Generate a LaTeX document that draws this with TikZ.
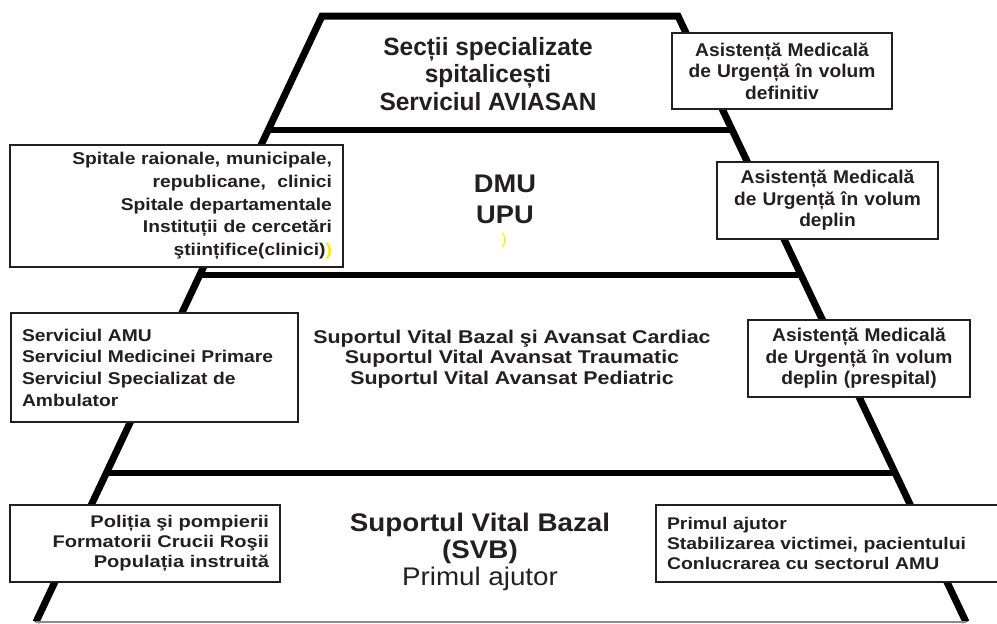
\documentclass[tikz,border=0pt]{standalone}
\usepackage{fontspec}
\setmainfont{Liberation Sans}
\usetikzlibrary{positioning}

\definecolor{ink}{HTML}{231F20}
\definecolor{hiyellow}{HTML}{FFEB00}

% size, line distance, horizontal stretch
\newcommand\wfont[3]{\fontsize{#1}{#2}\selectfont\bfseries\addfontfeature{FakeStretch=#3}}

\tikzset{
  edge/.style={line width=0.14cm, line join=miter, black},
  tier/.style={line width=0.12cm, black},
  floor/.style={line width=0.03cm, black!45},
  infobox/.style={draw=ink, line width=0.03cm, fill=white, text=ink,
    inner xsep=0.22cm, inner ysep=0pt},
  tiertext/.style={text=ink, align=center, inner sep=0pt}
}

\begin{document}
\begin{tikzpicture}[x=0.02cm, y=-0.02cm]
  \useasboundingbox (0,0) rectangle (997,623);

  % pyramid outline
  \coordinate (tl) at (322,16);
  \coordinate (tr) at (678,16);
  \coordinate (bl) at (36,622);
  \coordinate (br) at (966,622);
  \coordinate (l1) at (268.2,130);
  \coordinate (r1) at (732.2,130);
  \coordinate (l2) at (199.8,275);
  \coordinate (r2) at (801.1,275);
  \coordinate (l3) at (106.3,473);
  \coordinate (r3) at (895.2,473);

  \draw[edge] (bl) -- (tl) -- (tr) -- (br);
  \draw[tier] (l1) -- (r1);
  \draw[tier] (l2) -- (r2);
  \draw[tier] (l3) -- (r3);
  \draw[floor] (bl) -- (br);

  % texts inside the tiers
  \node [tiertext, font=\wfont{14.2}{15.8}{0.98}] (sectii) at (488,74)
    {Secții specializate\\spitalicești\\Serviciul AVIASAN};
  \node [tiertext, font=\wfont{14.5}{17.6}{1.07}] (dmu) at (505,199) {DMU\\UPU};
  \node [text=hiyellow, inner sep=0pt, font=\fontsize{9}{10}\selectfont] (stray) at (504,240) {)};
  \node [tiertext, font=\wfont{10.5}{11.7}{1.16}] (svba) at (512,359)
    {Suportul Vital Bazal şi Avansat Cardiac\\Suportul Vital Avansat Traumatic\\Suportul Vital Avansat Pediatric};
  \node [tiertext, font=\wfont{14.5}{15.2}{1.09}] (svb) at (480,552)
    {Suportul Vital Bazal\\(SVB)\\\mdseries Primul ajutor};

  % boxes on the sides
  \node [infobox, text width=3.96cm, minimum height=1.52cm, align=center, font=\wfont{10.5}{12.2}{1.04}] (definitiv) at (782,71)
    {Asistență Medicală\\de Urgență în volum\\definitiv};
  \node [infobox, text width=6.22cm, minimum height=2.44cm, align=right, font=\wfont{9.7}{12.9}{1.13}] (spitale) at (176.5,206)
    {Spitale raionale, municipale,\\republicane,~ clinici\\Spitale departamentale\\Instituții de cercetări\\ştiințifice(clinici)\textcolor{hiyellow}{)}};
  \node [infobox, text width=3.98cm, minimum height=1.54cm, align=center, font=\wfont{10.5}{12.2}{1.04}] (deplin) at (827.5,200.5)
    {Asistență Medicală\\de Urgență în volum\\deplin};
  \node [infobox, text width=5.30cm, minimum height=2.18cm, align=left, font=\wfont{9.7}{12.3}{1.13}] (amu) at (154.5,367.5)
    {Serviciul AMU\\Serviciul Medicinei Primare\\Serviciul Specializat de\\Ambulator};
  \node [infobox, text width=4.00cm, minimum height=1.54cm, align=center, font=\wfont{10.5}{12.2}{1.04}] (prespital) at (859,358.5)
    {Asistență Medicală\\de Urgență în volum\\deplin (prespital)};
  \node [infobox, text width=4.96cm, minimum height=1.54cm, align=right, font=\wfont{9.6}{11.3}{1.19}] (politia) at (145,543.5)
    {Poliția şi pompierii\\Formatorii Crucii Roşii\\Populația instruită};
  \node [infobox, text width=6.76cm, minimum height=1.54cm, align=left, font=\wfont{9.6}{11.3}{1.15}] (ajutor) at (836,543.5)
    {Primul ajutor\\Stabilizarea victimei, pacientului\\Conlucrarea cu sectorul AMU};
\end{tikzpicture}
\end{document}
